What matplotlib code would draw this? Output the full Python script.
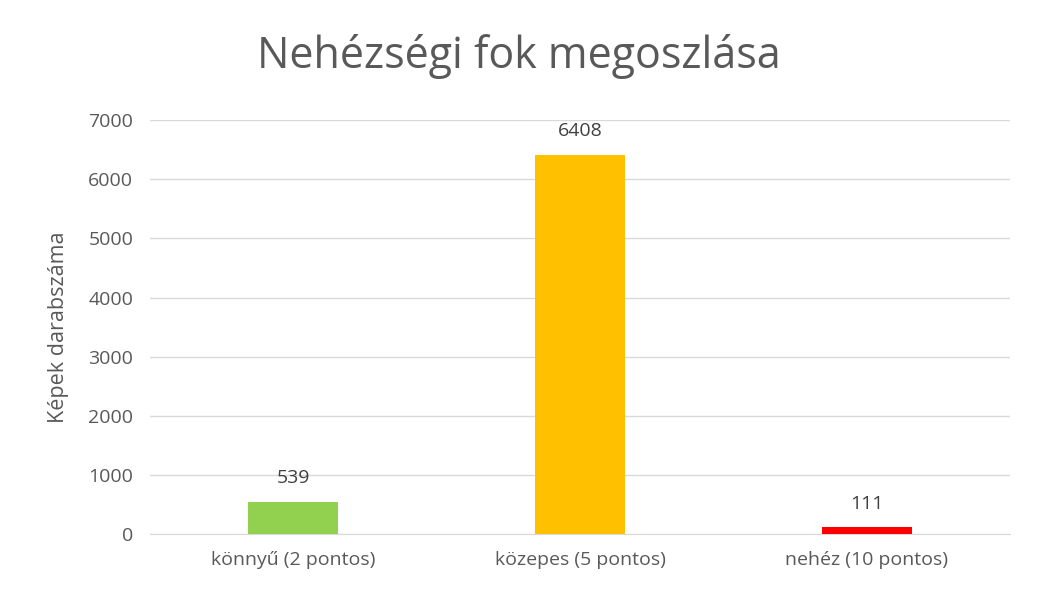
import matplotlib
matplotlib.use("Agg")
import matplotlib.pyplot as plt

categories = ["könnyű (2 pontos)", "közepes (5 pontos)", "nehéz (10 pontos)"]
values = [539, 6408, 111]
colors = ["#92D050", "#FFC000", "#FF0000"]

plt.rcParams['font.family'] = ['Open Sans', 'DejaVu Sans']
grey = "#595959"
fig = plt.figure(figsize=(10.38, 5.95), dpi=100)
ax = fig.add_axes([0.1445, 0.1025, 0.8285, 0.6955])
bars = ax.bar(range(3), values, width=0.314, color=colors, zorder=3)
for i, v in enumerate(values):
    ax.text(i, v + 250, str(v), ha="center", va="bottom", fontsize=14, color="#404040")
ax.set_xlim(-0.5, 2.5)
ax.set_ylim(0, 7000)
ax.set_yticks(range(0, 7001, 1000))
ax.set_xticks(range(3))
ax.set_xticklabels(categories)
ax.tick_params(axis="both", length=0, labelsize=14, colors=grey, pad=12)
ax.grid(axis="y", color="#D9D9D9", linewidth=1, zorder=0)
for s in ["top", "right", "left"]:
    ax.spines[s].set_visible(False)
ax.spines["bottom"].set_color("#D9D9D9")
ax.set_ylabel("Képek darabszáma", fontsize=15.5, color=grey, labelpad=14)
fig.text(0.5, 0.905, "Nehézségi fok megoszlása", ha="center", va="center", fontsize=31, color=grey)
fig.savefig("out.png", dpi=100)
